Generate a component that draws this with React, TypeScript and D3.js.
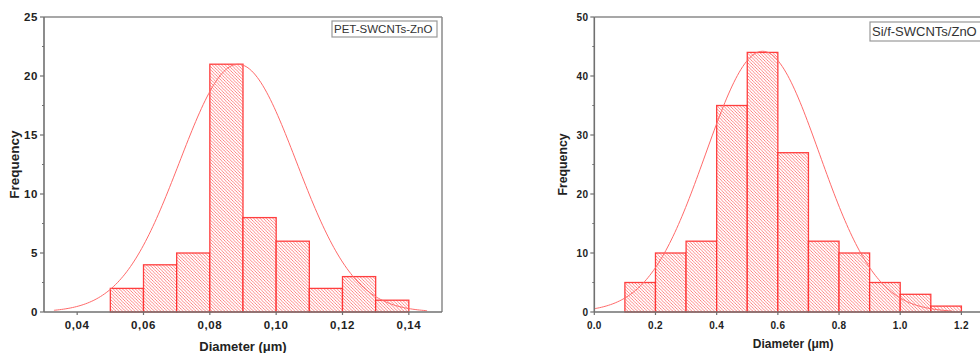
import * as d3 from 'd3'

// left panel: PET-SWCNTs-ZnO
const binsA = [0.05, 0.06, 0.07, 0.08, 0.09, 0.10, 0.11, 0.12, 0.13]
const countsA = [2, 4, 5, 21, 8, 6, 2, 3, 1]
const binWidthA = 0.01
const xTicksA = [0.04, 0.06, 0.08, 0.10, 0.12, 0.14]
const yTicksA = [0, 5, 10, 15, 20, 25]
const fitA = { mean: 0.0885, sigma: 0.0176, peak: 21, from: 0.033, to: 0.1455 }

// right panel: Si/f-SWCNTs/ZnO
const binsB = [0.1, 0.2, 0.3, 0.4, 0.5, 0.6, 0.7, 0.8, 0.9, 1.0, 1.1]
const countsB = [5, 10, 12, 35, 44, 27, 12, 10, 5, 3, 1]
const binWidthB = 0.1
const xTicksB = [0, 0.2, 0.4, 0.6, 0.8, 1.0, 1.2]
const yTicksB = [0, 10, 20, 30, 40, 50]
const fitB = { mean: 0.55, sigma: 0.186, peak: 44.2, from: 0, to: 1.17 }

const FONT = 'Arial, "Liberation Sans", sans-serif'
const RED = '#ff2b2b'

interface Fit { mean: number; sigma: number; peak: number; from: number; to: number }

interface PanelProps {
  id: string
  x0: number
  x1: number
  xDomain: [number, number]
  yMax: number
  bins: number[]
  counts: number[]
  binWidth: number
  xTicks: number[]
  yTicks: number[]
  fmt: (v: number) => string
  fit: Fit
  legend: string
  legendBox: { x: number; y: number; w: number; h: number; size: number }
  tickSize: number
  tickSpacing: number
  labelSize: number
  yLabelSize: number
  yLabelX: number
  xLabelY: number
}

function Panel(p: PanelProps) {
  const top = 17
  const bottom = 312
  const x = d3.scaleLinear().domain(p.xDomain).range([p.x0, p.x1])
  const y = d3.scaleLinear().domain([0, p.yMax]).range([bottom, top])
  const minor = d3.range(0, p.yMax, p.yTicks[1] / 2).filter(v => !p.yTicks.includes(v))

  const pts = d3.range(p.fit.from, p.fit.to + 1e-9, (p.fit.to - p.fit.from) / 200)
  const gauss = (v: number) => p.fit.peak * Math.exp(-0.5 * ((v - p.fit.mean) / p.fit.sigma) ** 2)
  const line = d3.line<number>().x(v => x(v)).y(v => y(gauss(v))).curve(d3.curveBasis)

  return (
    <g>
      {/* bars */}
      {p.bins.map((b, i) => (
        <rect key={i} x={x(b)} y={y(p.counts[i])} width={x(b + p.binWidth) - x(b)}
          height={y(0) - y(p.counts[i])} fill={`url(#hatch-${p.id})`}
          stroke={RED} strokeWidth={1.3} strokeOpacity={0.9} />
      ))}
      {/* normal fit */}
      <path d={line(pts) ?? ''} fill="none" stroke="#ff6a6a" strokeWidth={1} />

      {/* frame */}
      <line x1={p.x0} x2={p.x1} y1={top} y2={top} stroke="#8a8a8a" strokeWidth={1.5} />
      <line x1={p.x1} x2={p.x1} y1={top} y2={bottom} stroke="#8a8a8a" strokeWidth={1.5} />
      <line x1={p.x0} x2={p.x0} y1={top} y2={bottom} stroke="#707070" strokeWidth={1.6} />
      <line x1={p.x0} x2={p.x1} y1={bottom} y2={bottom} stroke="#707070" strokeWidth={1.6} />

      {/* y ticks */}
      {p.yTicks.map(t => (
        <g key={t}>
          <line x1={p.x0 - 4} x2={p.x0} y1={y(t)} y2={y(t)} stroke="#707070" strokeWidth={1.2} />
          <text x={p.x0 - 6} y={y(t)} dy="0.36em" textAnchor="end" fontFamily={FONT}
            fontWeight="bold" fontSize={p.tickSize} letterSpacing={p.tickSpacing} fill="#222">{t}</text>
        </g>
      ))}
      {minor.map(t => (
        <line key={t} x1={p.x0 - 2} x2={p.x0} y1={y(t)} y2={y(t)} stroke="#707070" strokeWidth={1} />
      ))}

      {/* x ticks */}
      {p.xTicks.map(t => (
        <g key={t}>
          <line x1={x(t)} x2={x(t)} y1={bottom} y2={bottom + 3} stroke="#707070" strokeWidth={1.2} />
          <text x={x(t)} y={bottom + 17} textAnchor="middle" fontFamily={FONT}
            fontWeight="bold" fontSize={p.tickSize} letterSpacing={p.tickSpacing} fill="#222">{p.fmt(t)}</text>
        </g>
      ))}

      {/* axis titles */}
      <text transform={`translate(${p.yLabelX},${(top + bottom) / 2}) rotate(-90)`} dy="0.36em"
        textAnchor="middle" fontFamily={FONT} fontWeight="bold" fontSize={p.yLabelSize} fill="#222">
        Frequency
      </text>
      <text x={(p.x0 + p.x1) / 2} y={p.xLabelY} textAnchor="middle" fontFamily={FONT}
        fontWeight="bold" fontSize={p.labelSize} fill="#222">
        Diameter (μm)
      </text>

      {/* legend */}
      <rect x={p.legendBox.x} y={p.legendBox.y} width={p.legendBox.w} height={p.legendBox.h}
        fill="#fff" stroke="#999" strokeWidth={1.2} />
      <text x={p.legendBox.x + 2} y={p.legendBox.y + p.legendBox.h / 2} dy="0.36em"
        fontFamily={FONT} fontSize={p.legendBox.size} fill="#333">{p.legend}</text>
    </g>
  )
}

export default function App() {
  const fmtA = (v: number) => d3.format('.2f')(v).replace('.', ',')
  const fmtB = (v: number) => d3.format('.1f')(v)
  return (
    <svg width={980} height={353} style={{ position: 'absolute', left: 0, top: 0, background: '#fff' }}>
      <defs>
        {['a', 'b'].map(id => (
          <pattern key={id} id={`hatch-${id}`} patternUnits="userSpaceOnUse" width={3.2} height={3.2}>
            <rect width={3.2} height={3.2} fill="#fff" />
            <path d="M0,0 L3.2,3.2 M-1,2.2 L1,4.2 M2.2,-1 L4.2,1" stroke="#ff5c5c" strokeWidth={0.75} />
          </pattern>
        ))}
      </defs>
      <Panel id="a" x0={44} x1={442} xDomain={[0.03, 0.15]} yMax={25}
        bins={binsA} counts={countsA} binWidth={binWidthA}
        xTicks={xTicksA} yTicks={yTicksA} fmt={fmtA} fit={fitA}
        legend="PET-SWCNTs-ZnO" legendBox={{ x: 332, y: 21, w: 105, h: 16, size: 11.5 }}
        tickSize={11.5} tickSpacing={0.6} labelSize={13} yLabelSize={13.5} yLabelX={14} xLabelY={351} />
      <Panel id="b" x0={594.3} x1={992} xDomain={[0, 1.3]} yMax={50}
        bins={binsB} counts={countsB} binWidth={binWidthB}
        xTicks={xTicksB} yTicks={yTicksB} fmt={fmtB} fit={fitB}
        legend="Si/f-SWCNTs/ZnO" legendBox={{ x: 870, y: 22, w: 120, h: 19, size: 13 }}
        tickSize={10} tickSpacing={0.3} labelSize={12} yLabelSize={12.3} yLabelX={563} xLabelY={348} />
    </svg>
  )
}
